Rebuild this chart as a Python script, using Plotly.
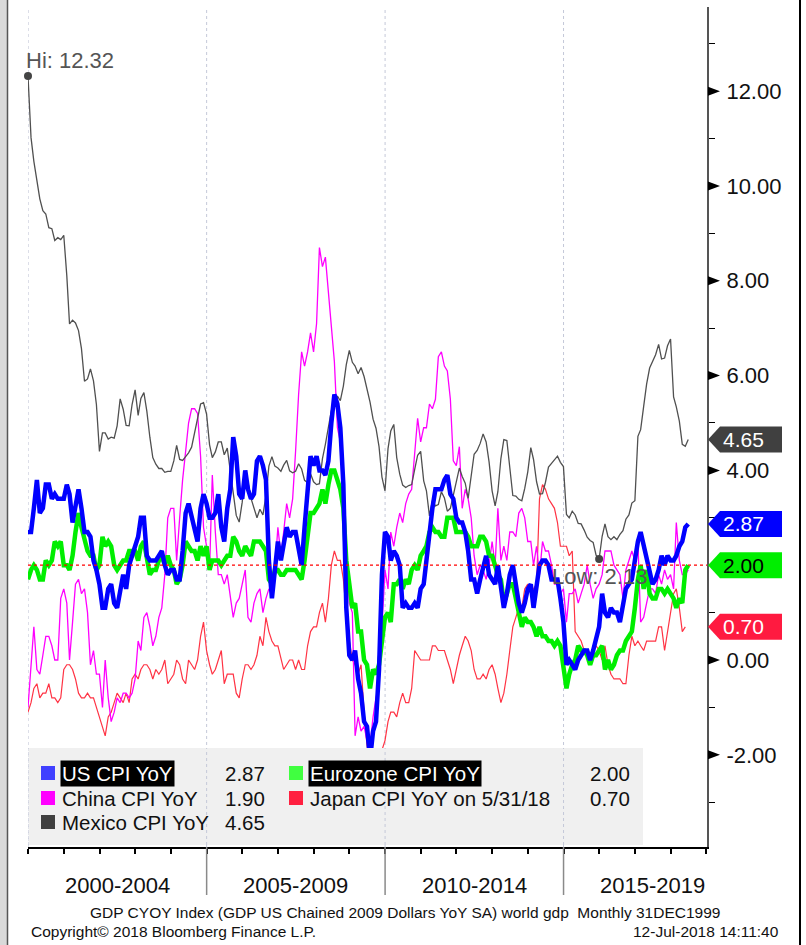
import pandas as pd
import numpy as np
import plotly.graph_objects as go

# ---------------- data (monthly, starting 31 Dec 1999) ----------------
us = [2.7,
      2.7, 3.2, 3.8, 3.1, 3.2, 3.7, 3.7, 3.4, 3.5, 3.4, 3.4, 3.4,
      3.7, 3.5, 2.9, 3.3, 3.6, 3.2, 2.7, 2.7, 2.6, 2.1, 1.9, 1.6,
      1.1, 1.1, 1.5, 1.6, 1.2, 1.1, 1.5, 1.8, 1.5, 2.0, 2.2, 2.4,
      2.6, 3.0, 3.0, 2.2, 2.1, 2.1, 2.1, 2.2, 2.3, 2.0, 1.8, 1.9,
      1.9, 1.7, 1.7, 2.3, 3.1, 3.3, 3.0, 2.7, 2.5, 3.2, 3.5, 3.3,
      3.0, 3.0, 3.1, 3.5, 2.8, 2.5, 3.2, 3.6, 4.7, 4.3, 3.5, 3.4,
      4.0, 3.6, 3.4, 3.5, 4.2, 4.3, 4.1, 3.8, 2.1, 1.3, 2.0, 2.5,
      2.1, 2.4, 2.8, 2.6, 2.7, 2.7, 2.4, 2.0, 2.8, 3.5, 4.3, 4.1,
      4.3, 4.0, 4.0, 3.9, 4.2, 5.0, 5.6, 5.4, 4.9, 3.7, 1.1, 0.1,
      0.0, 0.2, -0.4, -0.7, -1.3, -1.4, -2.1, -1.5, -1.3, -0.2, 1.8, 2.7,
      2.6, 2.1, 2.3, 2.2, 2.0, 1.1, 1.2, 1.1, 1.1, 1.2, 1.1, 1.5,
      1.6, 2.1, 2.7, 3.2, 3.6, 3.6, 3.6, 3.8, 3.9, 3.5, 3.4, 3.0,
      2.9, 2.9, 2.7, 2.3, 1.7, 1.7, 1.4, 1.7, 2.0, 2.2, 1.8, 1.7,
      1.6, 2.0, 1.5, 1.1, 1.4, 1.8, 2.0, 1.5, 1.2, 1.0, 1.2, 1.5,
      1.6, 1.1, 1.5, 2.0, 2.1, 2.1, 2.0, 1.7, 1.7, 1.7, 1.3, 0.8,
      -0.1, 0.0, -0.1, -0.2, 0.0, 0.1, 0.2, 0.2, 0.0, 0.2, 0.5, 0.7,
      1.4, 1.0, 0.9, 1.1, 1.0, 1.0, 0.8, 1.1, 1.5, 1.6, 1.7, 2.1,
      2.5, 2.7, 2.4, 2.2, 1.9, 1.6, 1.7, 1.9, 2.2, 2.0, 2.2, 2.1,
      2.1, 2.2, 2.4, 2.5, 2.8, 2.87]

eurozone = [1.7,
      1.9, 2.0, 1.9, 1.7, 1.7, 2.1, 2.0, 2.1, 2.5, 2.4, 2.5, 2.0,
      2.0, 1.9, 2.2, 2.7, 3.1, 2.8, 2.5, 2.3, 2.2, 2.2, 1.9, 2.0,
      2.6, 2.4, 2.5, 2.4, 2.0, 1.9, 2.0, 2.1, 2.1, 2.3, 2.3, 2.3,
      2.1, 2.4, 2.5, 2.1, 1.8, 1.9, 1.9, 2.1, 2.2, 2.0, 2.2, 2.0,
      1.9, 1.6, 1.7, 2.0, 2.5, 2.4, 2.3, 2.3, 2.1, 2.4, 2.2, 2.4,
      1.9, 2.1, 2.1, 2.1, 2.0, 2.1, 2.2, 2.2, 2.6, 2.5, 2.3, 2.2,
      2.4, 2.3, 2.2, 2.5, 2.5, 2.5, 2.4, 2.3, 1.7, 1.6, 1.9, 1.9,
      1.8, 1.8, 1.9, 1.9, 1.9, 1.9, 1.8, 1.7, 2.1, 2.6, 3.1, 3.1,
      3.2, 3.3, 3.6, 3.3, 3.7, 4.0, 4.0, 3.8, 3.6, 3.2, 2.1, 1.6,
      1.1, 1.2, 0.6, 0.6, 0.0, -0.1, -0.6, -0.2, -0.3, -0.1, 0.5, 0.9,
      1.0, 0.8, 1.6, 1.6, 1.7, 1.5, 1.7, 1.6, 1.9, 2.0, 1.9, 2.2,
      2.3, 2.4, 2.7, 2.8, 2.7, 2.7, 2.6, 2.6, 3.0, 3.0, 3.0, 2.7,
      2.7, 2.7, 2.7, 2.6, 2.4, 2.4, 2.4, 2.6, 2.6, 2.5, 2.2, 2.2,
      2.0, 1.8, 1.7, 1.2, 1.4, 1.6, 1.6, 1.3, 1.1, 0.7, 0.9, 0.8,
      0.8, 0.7, 0.5, 0.7, 0.5, 0.5, 0.4, 0.4, 0.3, 0.4, 0.3, -0.2,
      -0.6, -0.3, -0.1, 0.0, 0.3, 0.2, 0.2, 0.1, -0.1, 0.1, 0.1, 0.2,
      0.3, -0.2, 0.0, -0.2, -0.1, 0.1, 0.2, 0.2, 0.4, 0.5, 0.6, 1.1,
      1.7, 2.0, 1.5, 1.9, 1.4, 1.3, 1.3, 1.5, 1.5, 1.4, 1.5, 1.4,
      1.3, 1.1, 1.3, 1.2, 1.9, 2.0]

china = [-1.0,
      -0.2, 0.7, -0.2, -0.3, 0.1, 0.5, 0.5, 0.3, 0.0, 0.0, 1.3, 1.5,
      1.2, 0.0, 0.8, 1.6, 1.7, 1.4, 1.5, 1.0, -0.1, 0.2, -0.3, -0.3,
      -1.0, 0.0, -0.8, -1.3, -1.1, -0.8, -0.9, -0.7, -0.7, -0.8, -0.7, -0.4,
      0.4, 0.2, 0.9, 1.0, 0.7, 0.3, 0.5, 0.9, 1.1, 1.8, 3.0, 3.2,
      3.2, 2.1, 3.0, 3.8, 4.4, 5.0, 5.3, 5.3, 5.2, 4.3, 2.8, 2.4,
      1.9, 3.9, 2.7, 1.8, 1.8, 1.6, 1.8, 1.3, 0.9, 1.2, 1.3, 1.6,
      1.9, 0.9, 0.8, 1.2, 1.4, 1.5, 1.0, 1.3, 1.5, 1.4, 1.9, 2.8,
      2.2, 2.7, 3.3, 3.0, 3.4, 4.4, 5.6, 6.5, 6.2, 6.5, 6.9, 6.5,
      7.1, 8.7, 8.3, 8.5, 7.7, 7.1, 6.3, 4.9, 4.6, 4.0, 2.4, 1.2,
      1.0, -1.6, -1.2, -1.5, -1.4, -1.7, -1.8, -1.2, -0.8, -0.5, 0.6, 1.9,
      1.5, 2.7, 2.4, 2.8, 3.1, 2.9, 3.3, 3.5, 3.6, 4.4, 5.1, 4.6,
      4.9, 4.9, 5.4, 5.3, 5.5, 6.4, 6.5, 6.2, 6.1, 5.5, 4.2, 4.1,
      4.5, 3.2, 3.6, 3.4, 3.0, 2.2, 1.8, 2.0, 1.9, 1.7, 2.0, 2.5,
      2.0, 3.2, 2.1, 2.4, 2.1, 2.7, 2.7, 2.6, 3.1, 3.2, 3.0, 2.5,
      2.5, 2.0, 2.4, 1.8, 2.5, 2.3, 2.3, 2.0, 1.6, 1.6, 1.4, 1.5,
      0.8, 1.4, 1.4, 1.5, 1.2, 1.4, 1.6, 2.0, 1.6, 1.3, 1.5, 1.6,
      1.8, 2.3, 2.3, 2.3, 2.0, 1.9, 1.8, 1.3, 1.9, 2.1, 2.3, 2.1,
      2.5, 0.8, 0.9, 1.2, 1.5, 1.5, 1.4, 1.8, 1.6, 1.9, 1.7, 1.8,
      1.5, 2.9, 2.1, 1.8, 1.8, 1.9]

japan = [-1.1,
      -0.9, -0.6, -0.5, -0.8, -0.7, -0.7, -0.5, -0.8, -0.8, -0.9, -0.8, -0.2,
      -0.1, -0.1, -0.2, -0.4, -0.7, -0.8, -0.8, -0.7, -0.8, -0.8, -1.0, -1.2,
      -1.4, -1.6, -1.2, -1.1, -0.9, -0.7, -0.8, -0.9, -0.7, -0.9, -0.4, -0.3,
      -0.4, -0.2, -0.1, -0.1, -0.2, -0.4, -0.2, -0.3, -0.2, 0.0, -0.5, -0.4,
      -0.3, 0.0, -0.1, -0.4, -0.5, 0.0, -0.1, -0.2, 0.0, 0.5, 0.8, 0.2,
      -0.1, -0.3, -0.2, 0.0, 0.2, -0.5, -0.3, -0.3, -0.3, -0.7, -0.8, -0.4,
      -0.1, -0.1, -0.2, -0.1, 0.1, 0.5, 0.3, 0.9, 0.6, 0.4, 0.3, 0.3,
      0.0, -0.2, -0.1, 0.0, 0.0, -0.2, 0.0, -0.2, -0.2, 0.3, 0.6, 0.7,
      0.7, 1.0, 1.2, 0.8, 1.3, 2.0, 2.3, 2.1, 2.1, 1.7, 1.0, 0.4,
      0.0, -0.1, -0.3, -0.1, -1.1, -1.8, -2.2, -2.2, -2.2, -2.5, -1.9, -1.7,
      -1.3, -1.1, -1.1, -1.2, -0.9, -0.7, -0.9, -0.9, -0.6, 0.2, 0.1, 0.0,
      0.0, 0.0, 0.0, 0.3, 0.3, 0.2, 0.2, 0.2, 0.0, -0.2, -0.5, -0.2,
      0.1, 0.3, 0.5, 0.4, 0.2, -0.2, -0.4, -0.4, -0.3, -0.4, -0.2, -0.1,
      -0.3, -0.6, -0.9, -0.7, -0.3, 0.2, 0.7, 0.9, 1.1, 1.1, 1.5, 1.6,
      1.4, 1.5, 1.6, 3.4, 3.7, 3.6, 3.4, 3.3, 3.2, 2.9, 2.4, 2.4,
      2.4, 2.2, 2.3, 0.6, 0.5, 0.4, 0.2, 0.2, 0.0, 0.3, 0.3, 0.2,
      0.0, 0.3, -0.1, -0.3, -0.4, -0.4, -0.4, -0.5, -0.5, 0.1, 0.5, 0.3,
      0.4, 0.3, 0.2, 0.4, 0.4, 0.4, 0.4, 0.7, 0.7, 0.2, 0.6, 1.0,
      1.4, 1.5, 1.1, 0.6, 0.7]

mexico = [12.32,
      11.02, 10.52, 10.11, 9.73, 9.48, 9.41, 9.12, 9.10, 8.85, 8.91, 8.87, 8.96,
      8.11, 7.09, 7.17, 7.11, 6.95, 6.57, 5.88, 5.93, 6.14, 5.89, 5.39, 4.40,
      4.79, 4.79, 4.66, 4.70, 4.68, 4.94, 5.51, 5.29, 4.95, 4.94, 5.39, 5.70,
      5.16, 5.52, 5.64, 5.25, 4.70, 4.27, 4.13, 4.04, 4.04, 3.96, 3.98, 3.98,
      4.20, 4.53, 4.23, 4.21, 4.29, 4.37, 4.49, 4.82, 5.06, 5.40, 5.43, 5.19,
      4.54, 4.27, 4.39, 4.60, 4.60, 4.33, 4.47, 3.95, 3.51, 3.05, 2.91, 3.33,
      3.94, 3.75, 3.41, 3.20, 3.00, 3.18, 3.06, 3.47, 4.09, 4.29, 4.09, 4.05,
      3.98, 4.11, 4.21, 3.99, 3.95, 3.98, 4.14, 4.03, 3.79, 3.74, 3.93, 3.76,
      3.70, 3.72, 4.25, 4.55, 4.95, 5.26, 5.39, 5.57, 5.47, 5.78, 6.23, 6.53,
      6.28, 6.20, 6.04, 6.17, 5.98, 5.74, 5.44, 5.08, 4.89, 4.50, 3.86, 3.57,
      4.46, 4.83, 4.97, 4.27, 3.92, 3.69, 3.64, 3.68, 3.70, 4.02, 4.32, 4.40,
      3.78, 3.57, 3.04, 3.36, 3.25, 3.28, 3.55, 3.42, 3.14, 3.20, 3.48, 3.82,
      4.05, 3.87, 3.73, 3.41, 3.85, 4.34, 4.42, 4.57, 4.77, 4.60, 4.18, 3.57,
      3.25, 3.55, 4.25, 4.65, 4.63, 4.09, 3.47, 3.46, 3.39, 3.36, 3.62, 3.97,
      4.48, 4.23, 3.76, 3.50, 3.51, 3.75, 4.07, 4.15, 4.22, 4.30, 4.17, 4.08,
      3.07, 3.00, 3.14, 3.06, 2.88, 2.87, 2.74, 2.59, 2.52, 2.48, 2.21, 2.13,
      2.61, 2.87, 2.60, 2.54, 2.60, 2.54, 2.65, 2.73, 2.97, 3.06, 3.31, 3.36,
      4.72, 4.86, 5.35, 5.82, 6.16, 6.31, 6.44, 6.66, 6.35, 6.37, 6.63, 6.77,
      5.55, 5.34, 5.04, 4.55, 4.51, 4.65]

period_labels = ["2000-2004", "2005-2009", "2010-2014", "2015-2019"]
period_centers = ["2002-07-02", "2007-07-02", "2012-07-02", "2017-07-02"]
y_ticks = [-2, 0, 2, 4, 6, 8, 10, 12]
y_minor = [-3, -1, 1, 3, 5, 7, 9, 11, 13]

dates = pd.date_range("1999-12-31", periods=len(us), freq="ME")

# ---------------- geometry helpers ----------------
W, H = 806, 945
L, R, T, B = 28, 99, 7, 98
PW, PH = W - L - R, H - T - B
UNIT = 47.4  # pixels per y unit
def px(x):
    return (x - L) / PW
def py(y):
    return (H - B - y) / PH

FONT = "Liberation Sans, Arial, sans-serif"
fig = go.Figure()

def add_line(y, color, width):
    fig.add_trace(go.Scatter(x=dates[:len(y)], y=y, mode="lines",
                             line=dict(color=color, width=width),
                             showlegend=False, hoverinfo="skip"))

add_line(japan, "#ff3344", 1.2)
add_line(china, "#ff00ff", 1.3)
add_line(mexico, "#505050", 1.3)
add_line(eurozone, "#00ee00", 4.5)
add_line(us, "#0000ff", 4.5)

imax = int(np.argmax(mexico))
imin = int(np.argmin(mexico))
fig.add_trace(go.Scatter(x=[dates[imax], dates[imin]], y=[mexico[imax], mexico[imin]],
                         mode="markers", marker=dict(color="#444444", size=8),
                         showlegend=False, hoverinfo="skip", cliponaxis=False))

shapes = []
grid_dates = ["2000-01-01", "2005-01-01", "2010-01-01", "2015-01-01"]
for d in grid_dates:
    shapes.append(dict(type="line", xref="x", yref="paper", x0=d, x1=d, y0=0, y1=1,
                       line=dict(color="#c4c8d8", width=1, dash="dot"), layer="below"))
# legend box (covers data)
shapes.append(dict(type="rect", xref="paper", yref="paper", x0=0.001, x1=px(643),
                   y0=py(845), y1=py(748), fillcolor="#f0f0f0", line=dict(width=0), layer="above"))
for d in grid_dates:
    shapes.append(dict(type="line", xref="x", yref="paper", x0=d, x1=d, y0=py(845), y1=py(748),
                       line=dict(color="#c4c8d8", width=1, dash="dot"), layer="above"))
# red dotted line at 2.0
shapes.append(dict(type="line", xref="paper", yref="y", x0=0, x1=1, y0=2, y1=2,
                   line=dict(color="#ff0000", width=1.2, dash="dot"), layer="above"))
# period separators below the axis
for d in grid_dates[1:]:
    shapes.append(dict(type="line", xref="x", yref="paper", x0=d, x1=d, y0=0, y1=py(895),
                       line=dict(color="#8a8a8a", width=1.5)))
# frame: left grey strip and right border
shapes.append(dict(type="rect", xref="paper", yref="paper", x0=px(0), x1=px(7),
                   y0=py(945), y1=py(0), fillcolor="#d9d9d9", line=dict(width=0)))
shapes.append(dict(type="line", xref="paper", yref="paper", x0=px(7.5), x1=px(7.5),
                   y0=py(945), y1=py(0), line=dict(color="#555555", width=1.5)))
shapes.append(dict(type="line", xref="paper", yref="paper", x0=px(800), x1=px(800),
                   y0=py(945), y1=py(0), line=dict(color="#000000", width=2)))

# black triangle markers at major y ticks
th = 4.5 / UNIT
for v in y_ticks:
    if v == 2:
        continue
    shapes.append(dict(type="path", xref="paper", yref="y",
                       path=f"M {px(708)},{v+th} L {px(720)},{v} L {px(708)},{v-th} Z",
                       fillcolor="black", line=dict(width=0), layer="above"))

# value tags on right
tags = [(mexico[-1], "#404040", "white"), (us[-1], "#0000ff", "white"),
        (eurozone[-1], "#00ee00", "black"), (japan[-1], "#ff1a40", "white")]
hh = 13 / UNIT
annotations = []
for v, fill, tc in tags:
    xa, xb, xc = px(708), px(720), px(782)
    path = (f"M {xa},{v} L {xb},{v+hh} L {xc},{v+hh} L {xc},{v-hh} L {xb},{v-hh} Z")
    shapes.append(dict(type="path", xref="paper", yref="y", path=path,
                       fillcolor=fill, line=dict(width=0), layer="above"))
    annotations.append(dict(xref="paper", yref="y", x=px(721), y=v, xanchor="left",
                            yanchor="middle", text=f"{v:.2f}", showarrow=False,
                            font=dict(family=FONT, size=21, color=tc)))

# legend squares and texts
rows = [773, 798, 822]
legend_items = [
    (41, rows[0], "#4040ff", "US CPI YoY", True, us[-1], 267),
    (289, rows[0], "#40ff40", "Eurozone CPI YoY", True, eurozone[-1], 632),
    (41, rows[1], "#ff00ff", "China CPI YoY", False, china[-1], 267),
    (289, rows[1], "#ff2040", "Japan CPI YoY on 5/31/18", False, japan[-1], 632),
    (41, rows[2], "#404040", "Mexico CPI YoY", False, mexico[-1], 267),
]
for sx, ry, col, name, hl, val, vx in legend_items:
    shapes.append(dict(type="rect", xref="paper", yref="paper", x0=px(sx), x1=px(sx + 14),
                       y0=py(ry + 7), y1=py(ry - 7), fillcolor=col, line=dict(width=0),
                       layer="above"))
    annotations.append(dict(xref="paper", yref="paper", x=px(sx + 19), y=py(ry),
                            xanchor="left", yanchor="middle", text=name, showarrow=False,
                            bgcolor="black" if hl else None, borderpad=1,
                            font=dict(family=FONT, size=20.5, color="white" if hl else "#111111")))
    annotations.append(dict(xref="paper", yref="paper", x=px(vx), y=py(ry),
                            xanchor="right", yanchor="middle", text=f"{val:.2f}",
                            showarrow=False, font=dict(family=FONT, size=20.5, color="#111111")))

# Hi / Low labels
annotations.append(dict(x=dates[imax], y=mexico[imax], xref="x", yref="y", xanchor="left",
                        yanchor="bottom", yshift=1, xshift=-4, showarrow=False,
                        text=f"Hi: {mexico[imax]:.2f}",
                        font=dict(family=FONT, size=22, color="#555555")))
annotations.append(dict(x=dates[imin], y=mexico[imin], xref="x", yref="y", xanchor="center",
                        yanchor="top", yshift=-3, showarrow=False,
                        text=f"Low: {mexico[imin]:.2f}",
                        font=dict(family=FONT, size=22, color="#555555")))

# period labels
for lab, c in zip(period_labels, period_centers):
    annotations.append(dict(x=c, y=py(885), xref="x", yref="paper", text=lab, showarrow=False,
                            xanchor="center", yanchor="middle",
                            font=dict(family=FONT, size=22, color="#111111")))

# footer
annotations.append(dict(x=px(405), y=py(912), xref="paper", yref="paper", showarrow=False,
                        xanchor="center", yanchor="middle",
                        text="GDP CYOY Index (GDP US Chained 2009 Dollars YoY SA) world gdp\u00a0 Monthly 31DEC1999",
                        font=dict(family=FONT, size=15.5, color="#111111")))
annotations.append(dict(x=px(29), y=py(931), xref="paper", yref="paper", showarrow=False,
                        xanchor="left", yanchor="middle",
                        text="Copyright\u00a9 2018 Bloomberg Finance L.P.",
                        font=dict(family=FONT, size=15.5, color="#111111")))
annotations.append(dict(x=px(781), y=py(931), xref="paper", yref="paper", showarrow=False,
                        xanchor="right", yanchor="middle", text="12-Jul-2018 14:11:40",
                        font=dict(family=FONT, size=15.5, color="#111111")))

# tick text (the 2.00 label sits under the Eurozone tag)
tick_text = ["" if v == 2 else f"{v:.2f}" for v in y_ticks]

fig.update_layout(
    width=W, height=H, margin=dict(l=L, r=R, t=T, b=B),
    paper_bgcolor="white", plot_bgcolor="white",
    shapes=shapes, annotations=annotations,
    xaxis=dict(type="date", range=["1999-12-31", "2019-01-08"],
               tickvals=[f"{yr}-01-01" for yr in range(2000, 2020)],
               ticks="outside", ticklen=5, tickcolor="black", tickwidth=1.5,
               showticklabels=False, showgrid=False, zeroline=False,
               showline=True, linecolor="black", linewidth=2),
    yaxis=dict(side="right", range=[-3.945, 13.776],
               tickvals=y_ticks, ticktext=tick_text,
               ticks="", ticklabelstandoff=13,
               tickfont=dict(family=FONT, size=22, color="#111111"),
               minor=dict(tickvals=y_minor, ticks="outside", ticklen=6, tickcolor="black"),
               showgrid=False, zeroline=False,
               showline=True, linecolor="#555555", linewidth=2),
)

fig.write_html("out.html", config={"displayModeBar": False},
               post_script="document.body.style.margin='0';document.body.style.overflow='hidden';")
